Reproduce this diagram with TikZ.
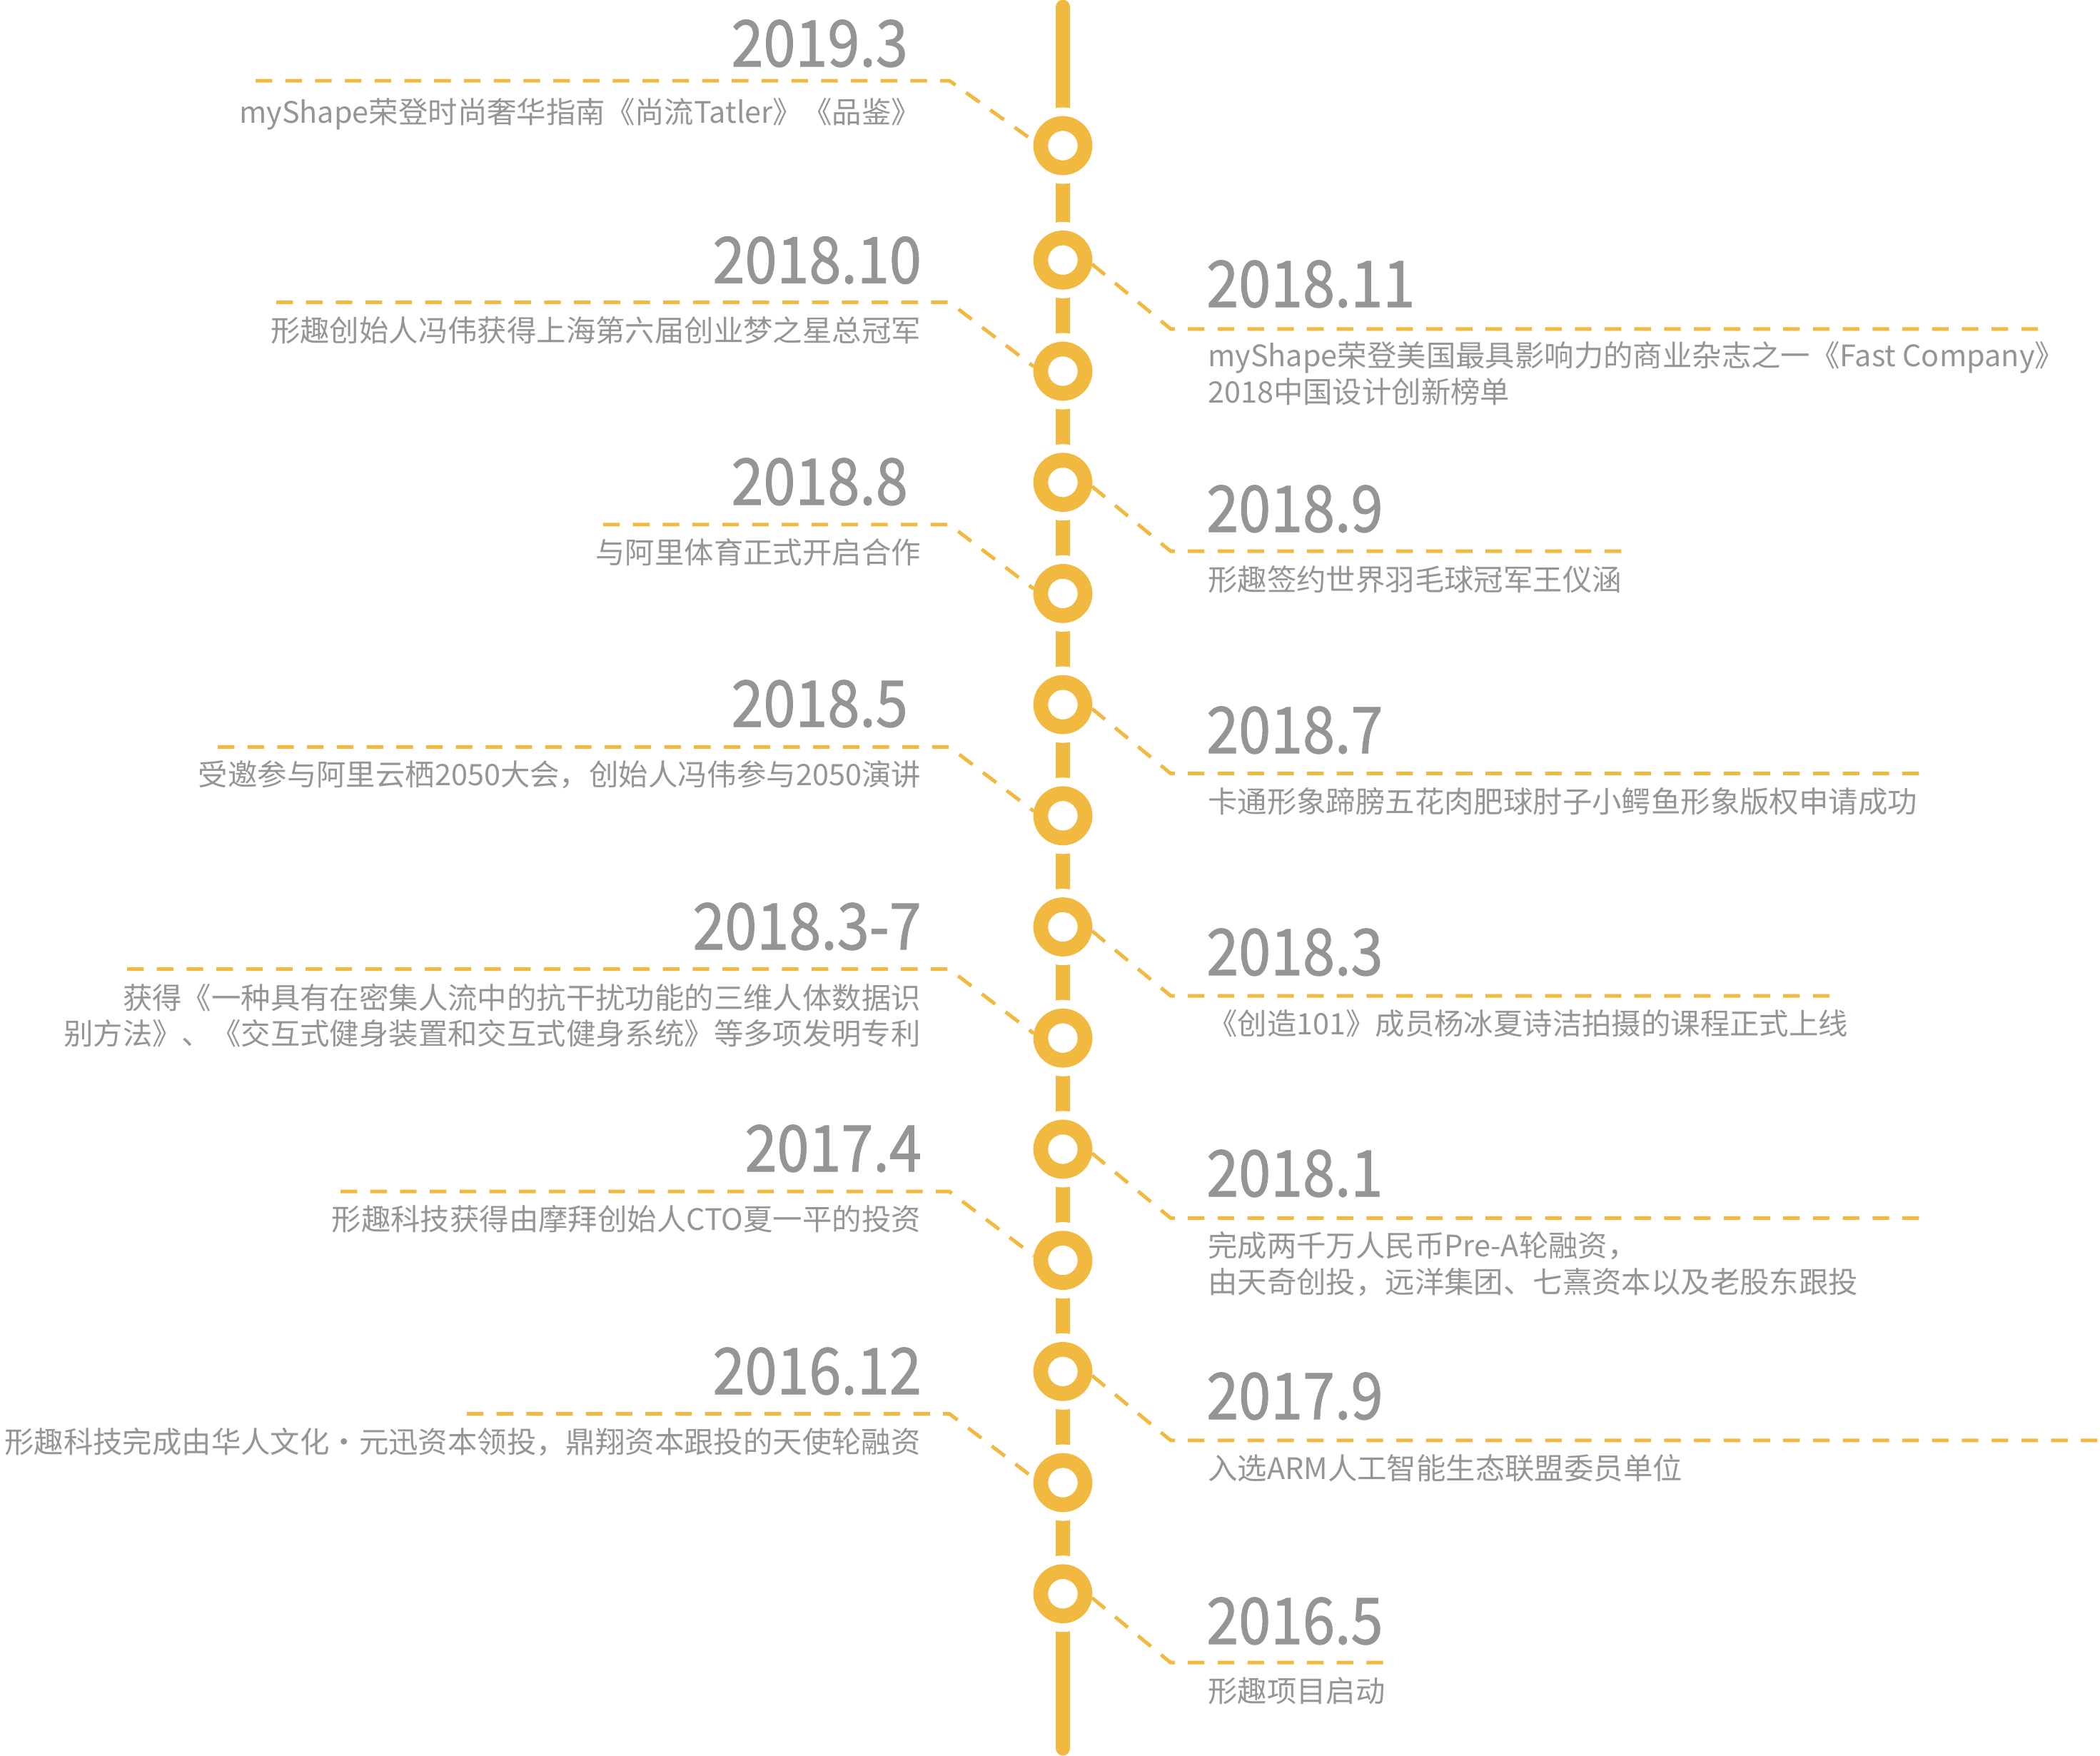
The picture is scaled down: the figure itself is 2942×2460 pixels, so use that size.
\documentclass[tikz,border=0pt]{standalone}
\usepackage{fontspec}
\setmainfont{Noto Sans CJK SC}
\newfontfamily\yearfam{Noto Sans CJK SC}[FakeBold=1.2]
\usepackage{graphicx}
\definecolor{ringc}{HTML}{F2B940}
\definecolor{txtg}{HTML}{959595}
\newcommand\yearfont{\yearfam\fontsize{90}{90}\selectfont}
\newcommand\descfont{\fontsize{41.4}{50}\selectfont}
\newcommand\yeartext[1]{\scalebox{0.9}[1]{#1}}
\tikzset{
  mainline/.style={draw=ringc, line width=20.7, line cap=round},
  ring/.style={circle, draw=ringc, line width=20.7, fill=white, inner sep=0pt,
    minimum size=62, preaction={draw=white, line width=45}},
  dashline/.style={draw=ringc, line width=5, dash pattern=on 23.3 off 18.4},
  yearl/.style={anchor=base east, inner sep=0pt, text=txtg, font=\yearfont},
  yearr/.style={anchor=base west, inner sep=0pt, text=txtg, font=\yearfont},
  descl/.style={anchor=base east, inner sep=0pt, text=txtg, font=\descfont},
  descr/.style={anchor=base west, inner sep=0pt, text=txtg, font=\descfont},
}
\begin{document}
\begin{tikzpicture}[x=1pt,y=-1pt]
\fill[white] (0,0) rectangle (2942,2460);
\useasboundingbox (0,0) rectangle (2942,2460);
% main line
\coordinate (top) at (1489,10);
\coordinate (bottom) at (1489,2449);
\draw[mainline] (top) -- (bottom);
% rings
\node[ring] (c1) at (1489,204) {};
\node[ring] (c2) at (1489,364.3) {};
\node[ring] (c3) at (1489,520.0) {};
\node[ring] (c4) at (1489,675.7) {};
\node[ring] (c5) at (1489,831.4) {};
\node[ring] (c6) at (1489,987.1) {};
\node[ring] (c7) at (1489,1142.8) {};
\node[ring] (c8) at (1489,1298.5) {};
\node[ring] (c9) at (1489,1454.2) {};
\node[ring] (c10) at (1489,1609.9) {};
\node[ring] (c11) at (1489,1765.6) {};
\node[ring] (c12) at (1489,1921.3) {};
\node[ring] (c13) at (1489,2077.0) {};
\node[ring] (c14) at (1489,2232.7) {};
% left dashed connectors
\coordinate (ls1) at (358,113);    \coordinate (lk1) at (1330,113);
\coordinate (ls2) at (387,423.5);  \coordinate (lk2) at (1330,423.5);
\coordinate (ls3) at (845,734.9);  \coordinate (lk3) at (1330,734.9);
\coordinate (ls4) at (305,1046.3); \coordinate (lk4) at (1330,1046.3);
\coordinate (ls5) at (178,1357.7); \coordinate (lk5) at (1330,1357.7);
\coordinate (ls6) at (477,1669.1); \coordinate (lk6) at (1330,1669.1);
\coordinate (ls7) at (654,1980.5); \coordinate (lk7) at (1330,1980.5);
\draw[dashline] (ls1) -- (lk1) -- (c1.171.5);
\draw[dashline] (ls2) -- (lk2) -- (c3.171.5);
\draw[dashline] (ls3) -- (lk3) -- (c5.171.5);
\draw[dashline] (ls4) -- (lk4) -- (c7.171.5);
\draw[dashline] (ls5) -- (lk5) -- (c9.171.5);
\draw[dashline] (ls6) -- (lk6) -- (c11.171.5);
\draw[dashline] (ls7) -- (lk7) -- (c13.171.5);
% right dashed connectors
\coordinate (rk1) at (1640,460.8);  \coordinate (re1) at (2857,460.8);
\coordinate (rk2) at (1640,772.2);  \coordinate (re2) at (2273,772.2);
\coordinate (rk3) at (1640,1083.6); \coordinate (re3) at (2693,1083.6);
\coordinate (rk4) at (1640,1395.0); \coordinate (re4) at (2565,1395.0);
\coordinate (rk5) at (1640,1706.4); \coordinate (re5) at (2693,1706.4);
\coordinate (rk6) at (1640,2017.8); \coordinate (re6) at (2942,2017.8);
\coordinate (rk7) at (1640,2329.2); \coordinate (re7) at (1939,2329.2);
\draw[dashline] (c2.-8.5) -- (rk1) -- (re1);
\draw[dashline] (c4.-8.5) -- (rk2) -- (re2);
\draw[dashline] (c6.-8.5) -- (rk3) -- (re3);
\draw[dashline] (c8.-8.5) -- (rk4) -- (re4);
\draw[dashline] (c10.-8.5) -- (rk5) -- (re5);
\draw[dashline] (c12.-8.5) -- (rk6) -- (re6);
\draw[dashline] (c14.-8.5) -- (rk7) -- (re7);
% left texts
\node[yearl] (y1) at (1272,93) {\yeartext{2019.3}};
\node[descl] (d1) at (1290,172) {myShape荣登时尚奢华指南《尚流Tatler》《品鉴》};
\node[yearl] (y2) at (1291,396.7) {\yeartext{2018.10}};
\node[descl] (d2) at (1290,478) {形趣创始人冯伟获得上海第六届创业梦之星总冠军};
\node[yearl] (y3) at (1272,707) {\yeartext{2018.8}};
\node[descl] (d3) at (1290,789) {与阿里体育正式开启合作};
\node[yearl] (y4) at (1272,1018) {\yeartext{2018.5}};
\node[descl] (d4) at (1290,1100) {受邀参与阿里云栖2050大会，创始人冯伟参与2050演讲};
\node[yearl] (y5) at (1291,1330) {\yeartext{2018.3-7}};
\node[descl] (d5a) at (1290,1413) {获得《一种具有在密集人流中的抗干扰功能的三维人体数据识};
\node[descl] (d5b) at (1290,1463) {别方法》、《交互式健身装置和交互式健身系统》等多项发明专利};
\node[yearl] (y6) at (1291,1641) {\yeartext{2017.4}};
\node[descl] (d6) at (1290,1723) {形趣科技获得由摩拜创始人CTO夏一平的投资};
\node[yearl] (y7) at (1291,1953) {\yeartext{2016.12}};
\node[descl] (d7) at (1290,2035) {形趣科技完成由华人文化·元迅资本领投，鼎翔资本跟投的天使轮融资};
% right texts
\node[yearr] (z1) at (1690,430) {\yeartext{2018.11}};
\node[descr] (e1a) at (1692,513) {myShape荣登美国最具影响力的商业杂志之一《Fast Company》};
\node[descr] (e1b) at (1692,564) {2018中国设计创新榜单};
\node[yearr] (z2) at (1690,745) {\yeartext{2018.9}};
\node[descr] (e2) at (1692,827) {形趣签约世界羽毛球冠军王仪涵};
\node[yearr] (z3) at (1690,1055) {\yeartext{2018.7}};
\node[descr] (e3) at (1692,1138) {卡通形象蹄膀五花肉肥球肘子小鳄鱼形象版权申请成功};
\node[yearr] (z4) at (1690,1366) {\yeartext{2018.3}};
\node[descr] (e4) at (1692,1449) {《创造101》成员杨冰夏诗洁拍摄的课程正式上线};
\node[yearr] (z5) at (1690,1676) {\yeartext{2018.1}};
\node[descr] (e5a) at (1692,1760) {完成两千万人民币Pre-A轮融资，};
\node[descr] (e5b) at (1692,1811) {由天奇创投，远洋集团、七熹资本以及老股东跟投};
\node[yearr] (z6) at (1690,1988) {\yeartext{2017.9}};
\node[descr] (e6) at (1692,2072) {入选ARM人工智能生态联盟委员单位};
\node[yearr] (z7) at (1690,2303) {\yeartext{2016.5}};
\node[descr] (e7) at (1692,2384) {形趣项目启动};
\end{tikzpicture}
\end{document}
